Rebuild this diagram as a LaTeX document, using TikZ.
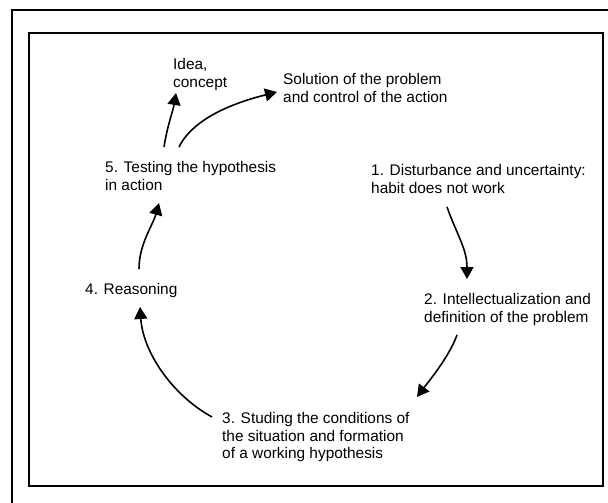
\documentclass[tikz,border=0pt]{standalone}
\usepackage{fontspec}
\setmainfont{Liberation Sans}
\usetikzlibrary{arrows.meta}

\tikzset{
  lbl/.style={align=left, anchor=north west, inner sep=0pt, font=\fontsize{15.4}{17.7}\selectfont},
  arr/.style={line width=1.6pt, -{Triangle[length=12pt,width=13pt]}},
  frame/.style={line width=1.8pt}
}

\begin{document}
\begin{tikzpicture}[x=1pt,y=-1pt]
        \useasboundingbox (0,0) rectangle (608,503);

        % Draw the two frames
        \draw[line width=1.4pt] (12,503) -- (12,10) -- (608,10);
        \draw[frame] (29,33) rectangle (603,486);

        % Label the steps of the cycle
        \node[lbl] (idea) at (173,58) {Idea,\\concept};
        \node[lbl] (sol) at (283,73) {Solution of the problem\\and control of the action};
        \node[lbl] (test) at (105,161) {5. Testing the hypothesis\\in action};
        \node[lbl] (dist) at (371,164) {1. Disturbance and uncertainty:\\habit does not work};
        \node[lbl] (reas) at (85,283) {4. Reasoning};
        \node[lbl] (intel) at (424,293) {2. Intellectualization and\\definition of the problem};
        \node[lbl] (stud) at (222,412) {3. Studing the conditions of\\the situation and formation\\of a working hypothesis};

        % Draw the arrows round the cycle
        \draw[arr] ([shift={(76,43)}]dist.north west) .. controls +(10,28) and +(0,-30) .. ([shift={(43,-14)}]intel.north west);
        \draw[arr] ([shift={(33,42)}]intel.north west) .. controls +(-8,22) and +(12,-16) .. ([shift={(195,-15)}]stud.north west);
        \draw[arr] ([shift={(-10,5)}]stud.north west) .. controls +(-40,-22) and +(3,45) .. ([shift={(55,24)}]reas.north west);
        \draw[arr] ([shift={(54,-14)}]reas.north west) .. controls +(0,-25) and +(-6,22) .. ([shift={(54,42)}]test.north west);

        % Draw the two arrows out of step 5
        \draw[arr] ([shift={(59,-14)}]test.north west) .. controls +(3,-20) and +(-3,18) .. ([shift={(3,35)}]idea.north west);
        \draw[arr] ([shift={(74,-14)}]test.north west) .. controls +(15,-30) and +(-40,10) .. ([shift={(-6,19)}]sol.north west);

    \end{tikzpicture}
\end{document}
